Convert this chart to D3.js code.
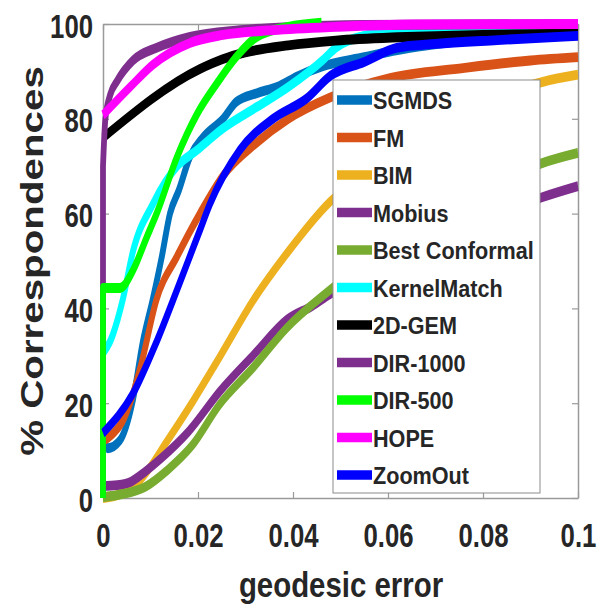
<!DOCTYPE html>
<html>
<head>
<meta charset="utf-8">
<script src="https://cdn.jsdelivr.net/npm/d3@7"></script>
<style>
  body { margin: 0; background: #fff; }
  text { font-family: "Liberation Sans", Arial, sans-serif; font-weight: bold; fill: #262626; }
</style>
</head>
<body>
<div id="chart"></div>
<script>
// series names in legend / plot order
var names = ["SGMDS", "FM", "BIM", "Mobius", "Best Conformal", "KernelMatch",
             "2D-GEM", "DIR-1000", "DIR-500", "HOPE", "ZoomOut"];
var colors = ["#0072BD", "#D95319", "#EDB120", "#7E2F8E", "#77AC30", "#00FFFF",
              "#000000", "#7E2F8E", "#00FF00", "#FF00FF", "#0000FF"];

// [geodesic error, % correspondences]
var sgmds = [[0,12],[0.001,10.5],[0.0036,12.2],[0.0063,20.7],[0.0084,33],[0.0105,42],[0.0124,51],
             [0.0141,60],[0.016,65],[0.0183,72],[0.021,76],[0.0253,80],[0.028,83.5],[0.0324,85.4],
             [0.0366,86.7],[0.041,89],[0.046,91],[0.055,93],[0.062,94.5],[0.069,95.6],[0.08,97],
             [0.09,97.7],[0.1,98]];
var fm = [[0,12],[0.002,13.5],[0.004,16],[0.006,21],[0.008,28],[0.0113,42],[0.0156,51],[0.0204,60],
          [0.0253,68],[0.0324,75],[0.039,80],[0.0478,84.5],[0.0604,88.6],[0.0758,90.7],[0.09,92.3],[0.1,93]];
var bim = [[0,0],[0.004,1],[0.008,4],[0.0135,12],[0.019,20.5],[0.0246,29.8],[0.0317,41.8],[0.0387,51.6],
           [0.0478,62.5],[0.056,69],[0.065,75.5],[0.075,81],[0.085,85.5],[0.0926,87.8],[0.1,89.3]];
var mobius = [[0,2.5],[0.003,2.7],[0.006,3.5],[0.0088,5.5],[0.0124,8.5],[0.018,14],[0.0246,22.5],
              [0.0317,30.2],[0.0387,37.6],[0.044,40.5],[0.0478,43],[0.06,49],[0.07,54],[0.08,58.5],
              [0.0926,63.5],[0.1,65.8]];
var bestConformal = [[0,0.2],[0.004,0.8],[0.0088,2.3],[0.0137,6],[0.0187,11],[0.0246,19.8],[0.0317,27.6],
                     [0.0387,35.9],[0.0478,43.9],[0.06,53],[0.07,59.5],[0.08,65],[0.0926,70.7],[0.1,72.8]];
var kernelMatch = [[0,30.6],[0.0015,33],[0.0042,42],[0.0063,52],[0.0105,62],[0.0156,70],[0.0198,73.4],
                   [0.0253,78],[0.0324,82.5],[0.039,86.7],[0.0463,92.4],[0.049,95],[0.055,97.5],
                   [0.065,98.8],[0.08,99.5],[0.1,99.8]];
var gem2d = [[0,76],[0.0204,90.5],[0.025,92.5],[0.03,94],[0.039,95.5],[0.049,96.5],[0.062,97.2],
             [0.08,97.7],[0.1,98]];
var dir1000 = [[0,0],[0,70],[0.0005,80],[0.0015,85],[0.003,88],[0.0063,92.3],[0.0113,95],[0.0183,97.3],
               [0.0288,98.7],[0.04,99.4],[0.055,99.8],[0.1,100]];
var dir500 = [[0,0],[0,44.3],[0.0036,44.3],[0.0063,48],[0.0092,55],[0.0113,60],[0.0156,72],[0.0198,81],
              [0.024,87.5],[0.028,93],[0.0324,97.3],[0.039,99.4],[0.046,100.3]];
var hope = [[0,80.8],[0.0057,86.7],[0.0105,91.4],[0.0183,96],[0.0253,97.7],[0.0358,98.7],[0.049,99.4],
            [0.065,99.9],[0.1,100]];
var zoomOut = [[0,13.7],[0.0063,22],[0.0113,33],[0.016,45],[0.0204,56.5],[0.0225,62],[0.0288,73.4],
               [0.0358,80],[0.043,84.4],[0.0478,89],[0.055,92],[0.062,95],[0.07,95.8],[0.083,96.6],[0.1,97.5]];

var series = [sgmds, fm, bim, mobius, bestConformal, kernelMatch, gem2d, dir1000, dir500, hope, zoomOut];

var xTicks = [0, 0.02, 0.04, 0.06, 0.08, 0.1];
var yTicks = [0, 20, 40, 60, 80, 100];

var width = 600, height = 609;
var plotLeft = 103, plotRight = 578, plotTop = 24, plotBottom = 498;

// the original figure is stretched vertically, so lines are thicker horizontally
var K = 1.7;

var x = d3.scaleLinear().domain([0, 0.1]).range([plotLeft, plotRight]);
var y = d3.scaleLinear().domain([0, 100]).range([plotBottom, plotTop]);

var svg = d3.select("#chart").append("svg")
    .attr("width", width)
    .attr("height", height);

var axisColor = "#9a9a9a";

function styleAxis(g) {
  g.select(".domain").attr("stroke", axisColor).attr("stroke-width", 1.5);
  g.selectAll(".tick line").attr("stroke", axisColor).attr("stroke-width", 1.2);
}

// bottom axis with labels
var gx = svg.append("g")
    .attr("transform", "translate(0," + plotBottom + ")")
    .call(d3.axisBottom(x).tickValues(xTicks).tickSize(-6).tickSizeOuter(0)
      .tickFormat(function(d) { return d3.format("~g")(d); }));
styleAxis(gx);
gx.selectAll("text")
  .attr("y", null).attr("dy", null)
  .attr("font-size", 33).attr("fill", null)
  .attr("transform", "translate(0,49) scale(0.78,1)");

// left axis with labels
var gy = svg.append("g")
    .attr("transform", "translate(" + plotLeft + ",0)")
    .call(d3.axisLeft(y).tickValues(yTicks).tickSize(-6).tickSizeOuter(0));
styleAxis(gy);
gy.selectAll("text")
  .attr("x", null).attr("dy", null)
  .attr("font-size", 33).attr("fill", null)
  .attr("transform", "translate(-10,13) scale(0.78,1)");

// top and right box sides
var gt = svg.append("g")
    .attr("transform", "translate(0," + plotTop + ")")
    .call(d3.axisTop(x).tickValues(xTicks).tickSize(-6).tickSizeOuter(0).tickFormat(""));
styleAxis(gt);
var gr = svg.append("g")
    .attr("transform", "translate(" + plotRight + ",0)")
    .call(d3.axisRight(y).tickValues(yTicks).tickSize(-6).tickSizeOuter(0).tickFormat(""));
styleAxis(gr);

// data lines, drawn in a vertically stretched group
var line = d3.line()
    .x(function(d) { return x(d[0]); })
    .y(function(d) { return y(d[1]) / K; })
    .curve(d3.curveMonotoneX);

var lineGroup = svg.append("g").attr("transform", "scale(1," + K + ")");
lineGroup.selectAll("path")
  .data(series)
  .enter()
  .append("path")
  .attr("d", function(d) {
    // vertical start segment at x = 0, monotoneX can't do that
    if (d[0][0] === d[1][0]) {
      return "M" + x(d[0][0]) + "," + (y(d[0][1]) / K) + line(d.slice(1)).replace(/^M/, "L");
    }
    return line(d);
  })
  .attr("fill", "none")
  .attr("stroke", function(d, i) { return colors[i]; })
  .attr("stroke-width", 5.8)
  .attr("stroke-linejoin", "round");

// legend
var legX = 333, legY = 80, legW = 207, legH = 413, rowH = 37.5;
var legend = svg.append("g");
legend.append("rect")
  .attr("x", legX).attr("y", legY)
  .attr("width", legW).attr("height", legH)
  .attr("fill", "#fff")
  .attr("stroke", "#8c8c8c")
  .attr("stroke-width", 1);

var items = legend.selectAll(".item")
  .data(names)
  .enter()
  .append("g")
  .attr("class", "item")
  .attr("transform", function(d, i) { return "translate(0," + (legY + 20 + i * rowH) + ")"; });

items.append("line")
  .attr("x1", legX + 4).attr("x2", legX + 39)
  .attr("y1", 0).attr("y2", 0)
  .attr("stroke", function(d, i) { return colors[i]; })
  .attr("stroke-width", 9.5);

items.append("text")
  .attr("transform", "translate(" + (legX + 40) + ",9) scale(0.9,1)")
  .attr("font-size", 24)
  .text(function(d) { return d; });

// axis titles
svg.append("text")
  .attr("transform", "translate(341,597) scale(0.84,1)")
  .attr("text-anchor", "middle")
  .attr("font-size", 35)
  .text("geodesic error");

svg.append("text")
  .attr("transform", "translate(43,261) rotate(-90) scale(1.26,1)")
  .attr("text-anchor", "middle")
  .attr("font-size", 32)
  .text("% Correspondences");
</script>
</body>
</html>
